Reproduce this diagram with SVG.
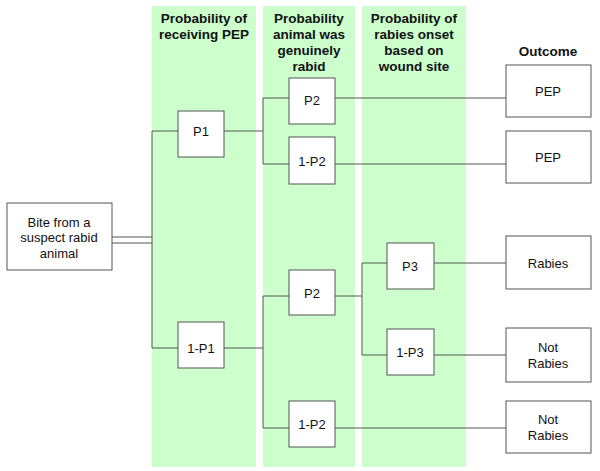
<svg xmlns="http://www.w3.org/2000/svg" width="600" height="471" viewBox="0 0 600 471">
<style>
.col{fill:#ccffcc}
.n rect{fill:#fff;stroke:#555;stroke-width:1}
text{font-family:"Liberation Sans",Arial,sans-serif;font-size:13px;text-anchor:middle;fill:#111}
.h{font-weight:bold;font-size:13.5px}
#conn path{fill:none;stroke:#555;stroke-width:1}
</style>
<rect width="600" height="471" fill="#fff"/>
<rect class="col" x="152" y="6" width="104" height="461"/>
<rect class="col" x="263" y="6" width="92" height="461"/>
<rect class="col" x="362" y="6" width="104" height="461"/>
<g>
<text class="h" x="204" y="23">Probability of</text><text class="h" x="204" y="39">receiving PEP</text>
<text class="h" x="309" y="23">Probability</text><text class="h" x="309" y="39">animal was</text><text class="h" x="309" y="55">genuinely</text><text class="h" x="309" y="71">rabid</text>
<text class="h" x="414" y="23">Probability of</text><text class="h" x="414" y="39">rabies onset</text><text class="h" x="414" y="55">based on</text><text class="h" x="414" y="71">wound site</text>
<text class="h" x="548" y="56">Outcome</text>
</g>
<g id="conn">
<path d="M112 237H152M112 243H152M152 131V348M152 131H178M152 348H178"/>
<path d="M224 131H263M263 98V164M263 98H289M263 164H289M335 98H506M335 164H506"/>
<path d="M224 348H263M263 296V428M263 296H289M263 428H289M335 428H506"/>
<path d="M335 296H362M362 263V355M362 263H387M362 355H387M434 263H506M434 355H506"/>
</g>
<g id="bite" class="n"><rect x="7" y="203" width="105" height="67"/><text x="59" y="227">Bite from a</text><text x="59" y="242">suspect rabid</text><text x="59" y="258">animal</text></g>
<g id="p1" class="n"><rect x="178" y="111" width="46" height="46"/><text x="201" y="136">P1</text></g>
<g id="np1" class="n"><rect x="178" y="322" width="46" height="46"/><text x="201" y="353">1-P1</text></g>
<g id="p2a" class="n"><rect x="289" y="78" width="46" height="46"/><text x="312" y="105">P2</text></g>
<g id="np2a" class="n"><rect x="289" y="137" width="46" height="47"/><text x="312" y="166">1-P2</text></g>
<g id="p2b" class="n"><rect x="289" y="270" width="46" height="45"/><text x="312" y="298">P2</text></g>
<g id="np2b" class="n"><rect x="289" y="401" width="46" height="46"/><text x="312" y="429">1-P2</text></g>
<g id="p3" class="n"><rect x="387" y="243" width="47" height="46"/><text x="410" y="271">P3</text></g>
<g id="np3" class="n"><rect x="387" y="329" width="47" height="46"/><text x="410" y="357">1-P3</text></g>
<g id="o1" class="n"><rect x="506" y="65" width="85" height="52"/><text x="548" y="96">PEP</text></g>
<g id="o2" class="n"><rect x="506" y="131" width="85" height="52"/><text x="548" y="162">PEP</text></g>
<g id="o3" class="n"><rect x="506" y="236" width="85" height="53"/><text x="548" y="268">Rabies</text></g>
<g id="o4" class="n"><rect x="506" y="328" width="85" height="54"/><text x="548" y="352">Not</text><text x="548" y="368">Rabies</text></g>
<g id="o5" class="n"><rect x="506" y="401" width="85" height="52"/><text x="548" y="424">Not</text><text x="548" y="440">Rabies</text></g>
</svg>
